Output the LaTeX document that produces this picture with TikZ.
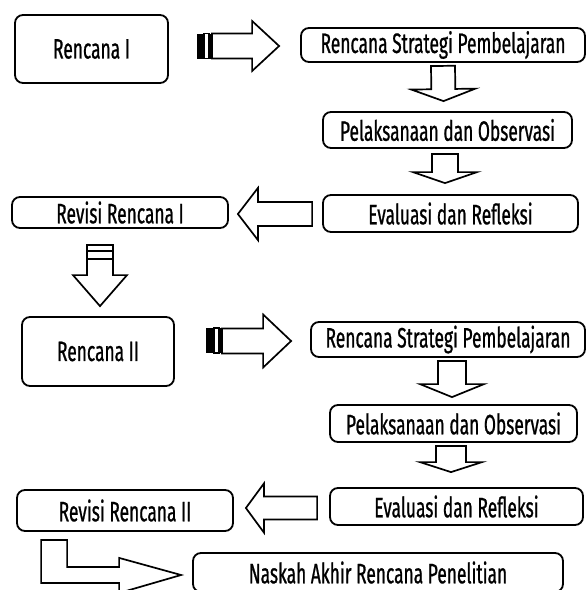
\documentclass[tikz,border=0pt]{standalone}
\usepackage{fontspec}
\setmainfont{Fira Sans}[FakeStretch=0.62,FakeBold=0.8]
\usetikzlibrary{calc}

% block arrow: start, tip, shaft half width, head half width, head length
\newcommand{\blockarrow}[5]{%
	\path (#1) coordinate (ba-s) (#2) coordinate (ba-e);
	\path ($(ba-e)!#5!(ba-s)$) coordinate (ba-h);
	\draw[arrowline] ($(ba-s)!#3!90:(ba-e)$) -- ($(ba-h)!#3!90:(ba-e)$)
		-- ($(ba-h)!#4!90:(ba-e)$) -- (ba-e) -- ($(ba-h)!#4!-90:(ba-e)$)
		-- ($(ba-h)!#3!-90:(ba-e)$) -- ($(ba-s)!#3!-90:(ba-e)$) -- cycle;
}

\begin{document}
\begin{tikzpicture}[x=1pt,y=-1pt,
		box/.style={draw,line width=1.8pt,rounded corners=8pt,inner sep=0pt,
			font=\fontsize{28}{32}\selectfont},
		arrowline/.style={draw,line width=1.7pt,fill=white,line join=miter}]
		\useasboundingbox (0,0) rectangle (587,590);
		\clip (0,0) rectangle (587,590);
		\path (91.5,49) node(rencanaI)[box,minimum width=153pt,minimum height=68pt]{Rencana I}
		(443,45) node(strategiI)[box,minimum width=284pt,minimum height=34pt]{Rencana Strategi Pembelajaran}
		(447.5,130) node(pelaksanaanI)[box,minimum width=249pt,minimum height=36pt]{Pelaksanaan dan Observasi}
		(450.5,213.5) node(evaluasiI)[box,minimum width=255pt,minimum height=37pt]{Evaluasi dan Refleksi}
		(120,212.5) node(revisiI)[box,minimum width=216pt,minimum height=31pt]{Revisi Rencana I}
		(98,351.5) node(rencanaII)[box,minimum width=152pt,minimum height=69pt]{Rencana II}
		(448,339.5) node(strategiII)[box,minimum width=274pt,minimum height=35pt]{Rencana Strategi Pembelajaran}
		(453.5,423.5) node(pelaksanaanII)[box,minimum width=247pt,minimum height=37pt]{Pelaksanaan dan Observasi}
		(456.5,506.5) node(evaluasiII)[box,minimum width=253pt,minimum height=37pt]{Evaluasi dan Refleksi}
		(125,510.5) node(revisiII)[box,minimum width=216pt,minimum height=41pt]{Revisi Rencana II}
		(378,572.5) node(naskah)[box,minimum width=370pt,minimum height=39pt]{Naskah Akhir Rencana Penelitian};
		% first cycle
		\fill ($(rencanaI.east)+(28,-15.5)$) rectangle ++(7,25);
		\draw[line width=1.2pt] ($(rencanaI.east)+(35,-15.5)$) rectangle ++(5,25);
		\fill ($(rencanaI.east)+(40,-15.5)$) rectangle ++(3,25);
		\blockarrow{$(rencanaI.east)+(43,-3)$}{$(strategiI.west)+(-21,1)$}{12.5pt}{25pt}{27pt}
		\blockarrow{$(strategiI.south)+(0,3)$}{$(pelaksanaanI.north)+(-4,-10)$}{12pt}{32pt}{12pt}
		\blockarrow{$(pelaksanaanI.south)+(-2.5,5)$}{$(evaluasiI.north)+(-5.5,-11)$}{13pt}{32pt}{11pt}
		\blockarrow{$(evaluasiI.west)+(-10,0.5)$}{$(revisiI.east)+(9,1.5)$}{12pt}{26pt}{20pt}
		% to second plan
		\draw[line width=1.2pt] ($(revisiI.south)+(-33,16)$) rectangle ++(26,6);
		\draw[line width=1.2pt] ($(revisiI.south)+(-33,22)$) rectangle ++(26,8);
		\blockarrow{$(revisiI.south)+(-20,30)$}{$(rencanaII.north)+(2,-10)$}{13pt}{27pt}{31pt}
		% second cycle
		\fill ($(rencanaII.east)+(31,-23.5)$) rectangle ++(8,25);
		\draw[line width=1.2pt] ($(rencanaII.east)+(39,-23.5)$) rectangle ++(5,25);
		\fill ($(rencanaII.east)+(44,-23.5)$) rectangle ++(3,25);
		\blockarrow{$(rencanaII.east)+(47,-10.5)$}{$(strategiII.west)+(-19,1.5)$}{12.5pt}{26.5pt}{28pt}
		\blockarrow{$(strategiII.south)+(4,3)$}{$(pelaksanaanII.north)+(-1.5,-7)$}{14pt}{32pt}{13pt}
		\blockarrow{$(pelaksanaanII.south)+(-2.5,3)$}{$(evaluasiII.north)+(-5.5,-15)$}{15pt}{31pt}{10pt}
		\blockarrow{$(evaluasiII.west)+(-12,1.5)$}{$(revisiII.east)+(12,-2.5)$}{11.5pt}{24.5pt}{18pt}
		% bent arrow to the final text
		\draw[arrowline] ($(revisiII.south west)+(25,8)$) -- ++(26,0) -- ++(0,27) -- ++(52,0)
			-- ++(0,-9) -- ($(naskah.west)+(-11,2.5)$) -- ++(-62,18) -- ++(0,-10)
			-- ++(-78,0) -- cycle;
	\end{tikzpicture}
\end{document}
